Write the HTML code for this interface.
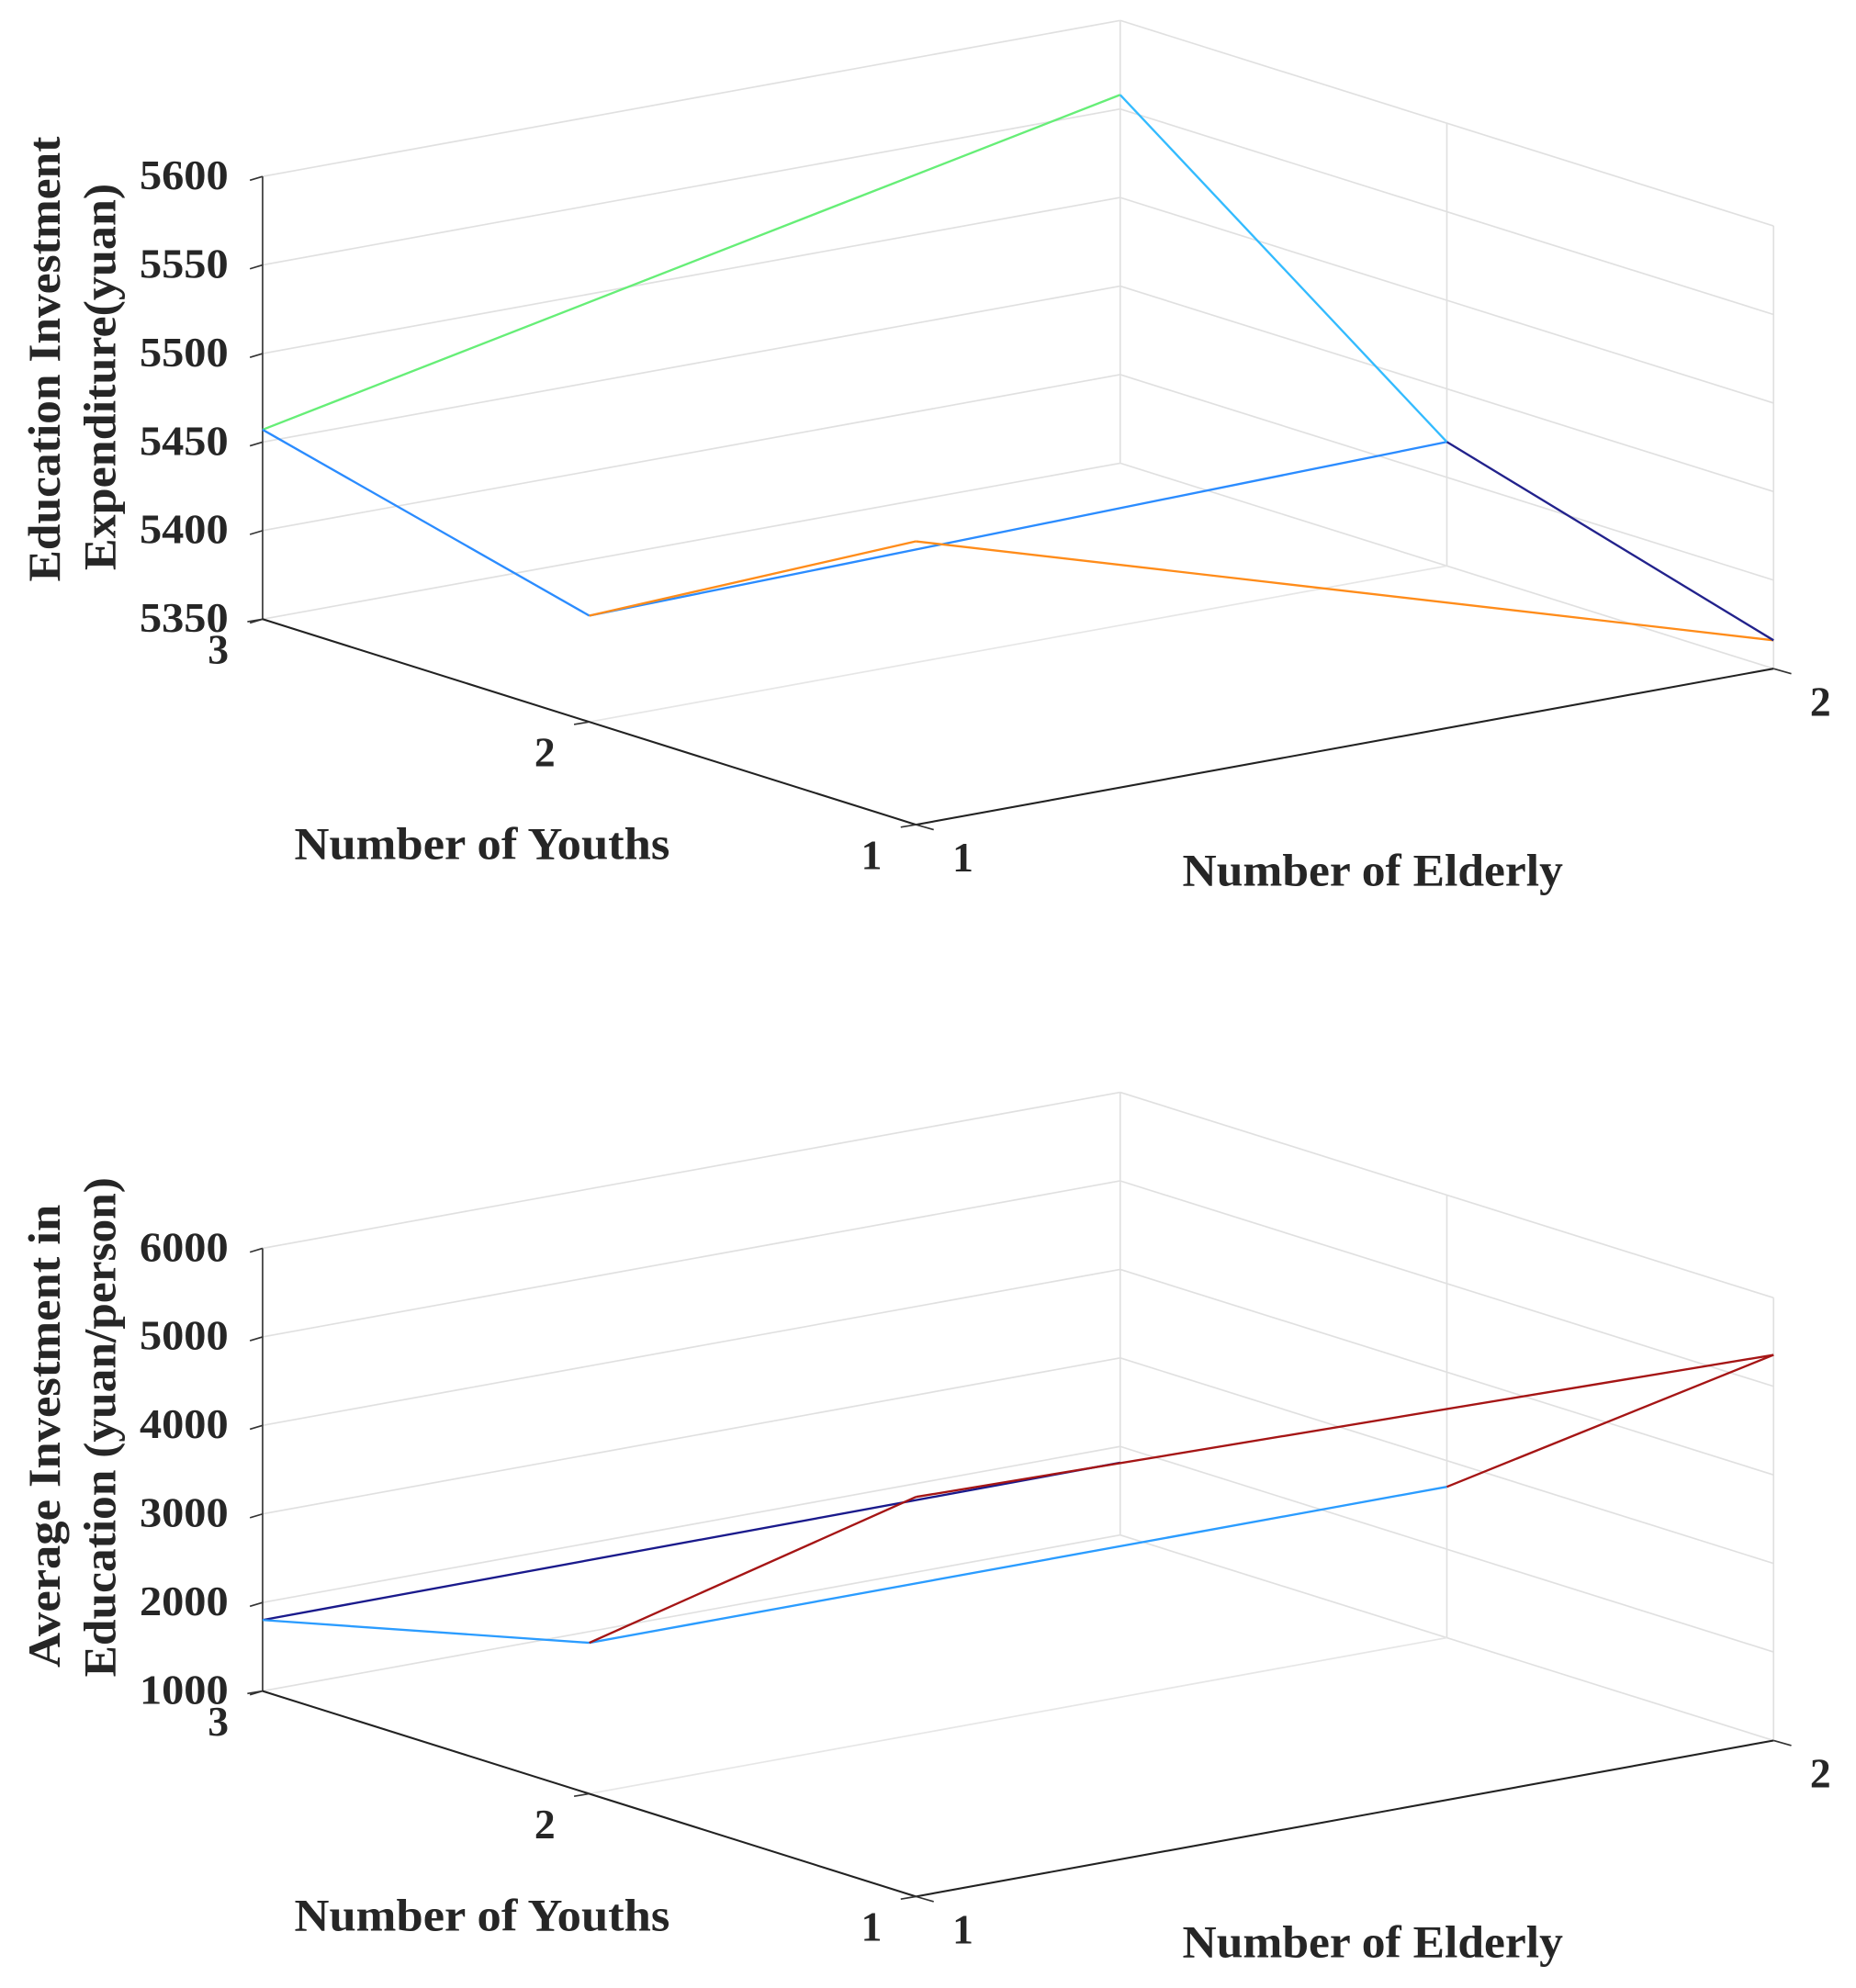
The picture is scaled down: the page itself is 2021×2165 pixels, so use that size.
<!DOCTYPE html>
<html><head><meta charset="utf-8"><style>
html,body{margin:0;padding:0;background:#fff;}
svg{display:block;}
text{font-family:"Liberation Serif",serif;font-weight:bold;fill:#262626;}
</style></head><body>
<svg id="fig" width="2021" height="2165" viewBox="0 0 1463 1567" xmlns="http://www.w3.org/2000/svg"></svg>
<script>
// Chart 1 data: youth order [3,2,1]
const youthVals = [3, 2, 1];
const elderlyVals = [1, 2];
const exp_e1 = [5457, 5410, 5510];
const exp_e2 = [5558, 5420, 5366];
const expTicks = [5350, 5400, 5450, 5500, 5550, 5600];
// Chart 2 data
const avg_e1 = [1802, 2705, 5513];
const avg_e2 = [1817, 2705, 5355];
const avgTicks = [1000, 2000, 3000, 4000, 5000, 6000];

const NS = "http://www.w3.org/2000/svg";
const svg = document.getElementById('fig');
function mk(tag, attrs, parent) {
  const el = document.createElementNS(NS, tag);
  for (const k in attrs) el.setAttribute(k, attrs[k]);
  (parent || svg).appendChild(el);
  return el;
}
function makeChart(oy, ticks, e1, e2, colors, titleLines, titleLens, titleCy, prefix, hideE2a) {
  const zmin = ticks[0], zmax = ticks[ticks.length - 1];
  const zpx = 349 / (zmax - zmin);
  const P = (e, y, z) => [207 + (e - 1) * 676 + (3 - y) * 257.5, oy + (e - 1) * -123 + (3 - y) * 81 - (z - zmin) * zpx];
  const g = mk('g', {});
  
  
  const line = (a, b, stroke, w, name) => {
    const l = mk('line', {x1: a[0], y1: a[1], x2: b[0], y2: b[1], stroke: stroke, 'stroke-width': w}, g);
    
    
    return l;
  };
  ticks.forEach(t => {
    line(P(1, 3, t), P(2, 3, t), '#e0e0e0', 1.2, 'grid-line');
    line(P(2, 3, t), P(2, 1, t), '#e0e0e0', 1.2, 'grid-line');
  });
  [3, 2, 1].forEach(y => line(P(2, y, zmin), P(2, y, zmax), '#e0e0e0', 1.2, 'grid-line'));
  line(P(1, 2, zmin), P(2, 2, zmin), '#e6e6e6', 1.2, 'grid-line');
  line(P(1, 3, zmin), P(1, 3, zmax), '#333', 1.2, 'z-axis');
  line(P(1, 3, zmin), P(1, 1, zmin), '#222', 1.5, 'youth-axis');
  line(P(1, 1, zmin), P(2, 1, zmin), '#222', 1.5, 'elderly-axis');
  ticks.forEach(t => {
    const p = P(1, 3, t);
    line(p, [p[0] - 10, p[1] + 3], '#333', 1.2, 'z-tick');
    const tx = mk('text', {x: 180, y: p[1] + 10, 'font-size': 33, 'text-anchor': 'end', textLength: 70, lengthAdjust: 'spacingAndGlyphs'}, g);
    
    
    tx.textContent = t;
  });
  youthVals.forEach(y => {
    const p = P(1, y, zmin);
    line(p, [p[0] - 12, p[1] + 2], '#333', 1.2, 'youth-tick');
    const tx = mk('text', {x: p[0] - 35, y: p[1] + 35, 'font-size': 33, 'text-anchor': 'middle'}, g);
    
    
    tx.textContent = y;
  });
  elderlyVals.forEach(e => {
    const p = P(e, 1, zmin);
    line(p, [p[0] + 14, p[1] + 4], '#333', 1.2, 'elderly-tick');
    const tx = mk('text', {x: p[0] + 37, y: p[1] + 37, 'font-size': 33, 'text-anchor': 'middle'}, g);
    
    
    tx.textContent = e;
  });
  const pt = (ei, yi) => P(elderlyVals[ei], youthVals[yi], (ei === 0 ? e1 : e2)[yi]);
  line(pt(0, 0), pt(1, 0), colors[0], 1.7, 'series-youth3');
  line(pt(0, 1), pt(1, 1), colors[1], 1.7, 'series-youth2');
  line(pt(0, 2), pt(1, 2), colors[2], 1.7, 'series-youth1');
  line(pt(0, 0), pt(0, 1), colors[3], 1.7, 'series-elderly1-a');
  line(pt(0, 1), pt(0, 2), colors[4], 1.7, 'series-elderly1-b');
  if (!hideE2a) line(pt(1, 0), pt(1, 1), colors[5], 1.7, 'series-elderly2-a');
  line(pt(1, 1), pt(1, 2), colors[6], 1.7, 'series-elderly2-b');
  const ly = mk('text', {x: 380, y: oy + 189, 'font-size': 36, 'text-anchor': 'middle', textLength: 296, lengthAdjust: 'spacingAndGlyphs'}, g);
  
  
  ly.textContent = 'Number of Youths';
  const le = mk('text', {x: 1082, y: oy + 210, 'font-size': 36, 'text-anchor': 'middle', textLength: 300, lengthAdjust: 'spacingAndGlyphs'}, g);
  
  
  le.textContent = 'Number of Elderly';
  titleLines.forEach((s, i) => {
    const x = 47 + i * 44;
    const cy = titleCy[i];
    const t = mk('text', {x: x, y: cy, 'font-size': 36, 'text-anchor': 'middle', transform: 'rotate(-90 ' + x + ' ' + cy + ')', textLength: titleLens[i], lengthAdjust: 'spacingAndGlyphs'}, g);
    
    
    t.textContent = s;
  });
}
makeChart(488, expTicks, exp_e1, exp_e2,
  ['#66ee77', '#2b8cff', '#ff8c1a', '#2b8cff', '#ff8c1a', '#33bbff', '#22228c'],
  ['Education Investment', 'Expenditure(yuan)'], [351, 305], [283, 297], 'expenditure', false);
makeChart(1333, avgTicks, avg_e1, avg_e2,
  ['#1a1a8c', '#2b9cff', '#a51515', '#2b9cff', '#a51515', '#2b9cff', '#a51515'],
  ['Average Investment in', 'Education (yuan/person)'], [365, 394], [1132, 1125], 'average', true);
</script>
</body></html>
